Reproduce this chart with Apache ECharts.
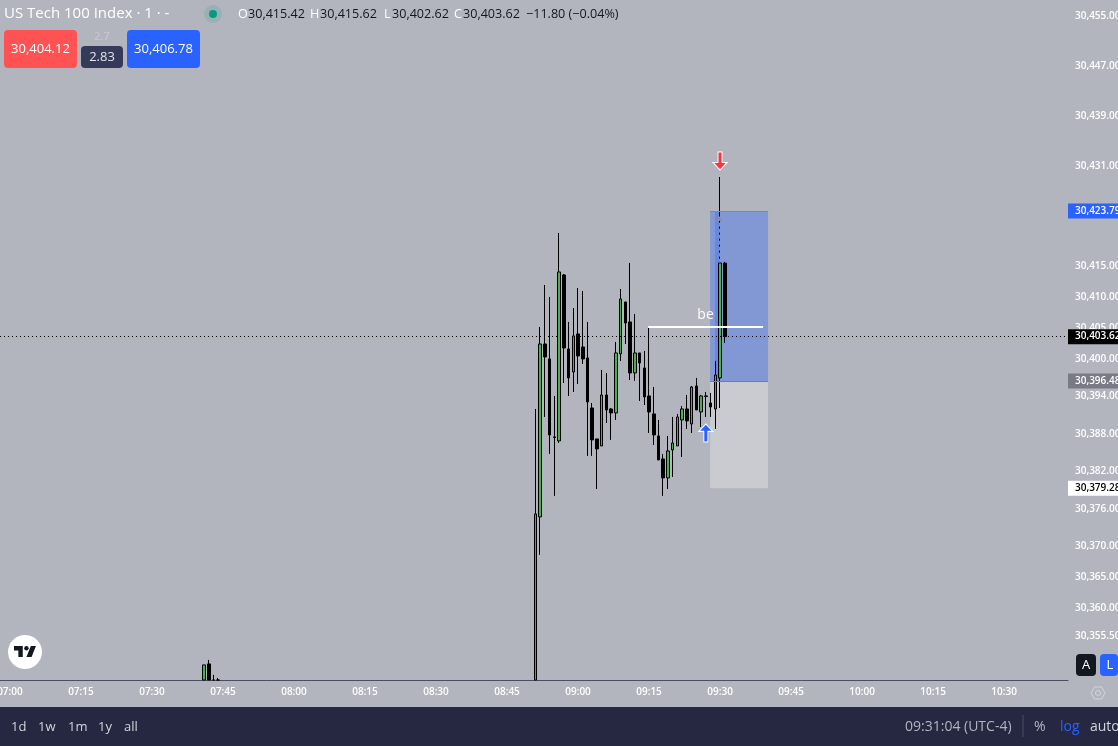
<!DOCTYPE html>
<html>
<head>
<meta charset="utf-8">
<style>
html, body { margin: 0; padding: 0; background: #b2b5be; overflow: hidden; }
#chart { width: 1118px; height: 746px; }
</style>
<script src="https://cdn.jsdelivr.net/npm/echarts@6/dist/echarts.min.js"></script>
</head>
<body>
<div id="chart"></div>
<script>
// minutes since midnight for each 1m candle
var minutes = [461,462,463,464,531,532,533,534,535,536,537,538,539,540,541,542,543,544,545,546,547,548,549,550,551,552,553,554,555,556,557,558,559,560,561,562,563,564,565,566,567,568,569,570,571];
// the first candles run below the visible range, their hidden ends sit on the axis floor
var opens = [30348.5,30351.08,30348.5,30348.5,30348.5,30374.68,30402.44,30400.04,30387.52,30386.88,30413.52,30401.64,30397.95,30404.05,30401.96,30400.20,30392.17,30387.20,30386.07,30394.26,30392.01,30391.37,30400.84,30409.19,30405.98,30397.79,30401.00,30398.59,30394.10,30391.21,30387.68,30383.99,30380.94,30385.43,30386.07,30390.25,30392.01,30389.60,30395.70,30391.53,30394.10,30392.97,30392.01,30396.99,30415.42];
var closes = [30350.92,30348.5,30348.5,30348.5,30375.16,30402.44,30400.36,30387.84,30387.44,30414.00,30401.80,30396.99,30403.73,30400.52,30400.04,30393.13,30387.04,30385.59,30394.26,30391.85,30391.37,30401.00,30409.67,30405.82,30397.79,30401.00,30399.39,30393.94,30391.53,30387.84,30383.83,30380.94,30385.27,30386.55,30390.73,30392.01,30390.09,30395.54,30391.85,30394.10,30394.02,30392.33,30397.47,30415.45,30403.62];
var lows = [30348.5,30348.5,30348.5,30348.5,30348.5,30368.58,30390.73,30384.79,30378.05,30386.55,30396.18,30394.10,30394.74,30396.02,30399.23,30384.47,30384.47,30379.17,30386.07,30389.76,30387.04,30390.25,30399.72,30402.44,30396.67,30396.51,30393.30,30392.65,30388.16,30386.23,30383.83,30378.05,30379.17,30381.10,30386.07,30384.31,30388.80,30388.16,30391.85,30389.12,30390.73,30390.73,30388.80,30392.17,30402.62];
var highs = [30350.92,30351.72,30349.32,30348.83,30392.01,30405.17,30411.91,30409.99,30394.10,30420.26,30413.68,30405.98,30408.22,30411.43,30410.95,30405.98,30392.97,30387.20,30398.27,30397.79,30392.17,30402.77,30411.27,30409.19,30415.45,30407.26,30401.00,30401.32,30405.17,30395.54,30390.25,30384.79,30387.68,30390.73,30391.21,30392.49,30394.26,30395.70,30396.99,30394.26,30394.74,30394.58,30399.72,30429.25,30415.62];

var priceTicks = [30455,30447,30439,30431,30415,30410,30405,30400,30394,30388,30382,30376,30370,30365,30360,30355.5];
var timeTicks = [420,435,450,465,480,495,510,525,540,555,570,585,600,615,630];

var lastPrice = 30403.62;
var targetPrice = 30423.79;
var entryPrice = 30396.48;
var stopPrice = 30379.28;
var bePrice = 30405.17;

function fmtPrice(v) {
  return v.toFixed(2).replace(/\B(?=(\d{3})+(?!\d))/g, ',');
}
function fmtTime(m) {
  var h = Math.floor(m / 60), mm = m % 60;
  return (h < 10 ? '0' : '') + h + ':' + (mm < 10 ? '0' : '') + mm;
}

var candleData = minutes.map(function (m, i) {
  return [m, opens[i], closes[i], lows[i], highs[i]];
});

var font = 'Open Sans';
var bg = '#b2b5be';

function priceLine(value, boxColor, textColor, line) {
  return {
    yAxis: value,
    lineStyle: line || { color: 'rgba(0,0,0,0)' },
    label: {
      show: true,
      position: 'end',
      distance: 0,
      formatter: fmtPrice(value),
      backgroundColor: boxColor,
      color: textColor,
      fontFamily: font,
      fontSize: 10,
      fontWeight: 600,
      width: 44,
      align: 'left',
      padding: [3, 0, 2, 7]
    }
  };
}

var chart = echarts.init(document.getElementById('chart'));
chart.setOption({
  backgroundColor: bg,
  animation: false,
  grid: { left: 0, right: 50, top: 0, bottom: 66, outerBoundsMode: 'none' },
  xAxis: {
    type: 'value',
    min: 417.9,
    max: 643.5,
    splitLine: { show: false },
    axisLine: { onZero: false, lineStyle: { color: '#4a4e63', width: 1 } },
    axisTick: { show: false },
    axisLabel: {
      customValues: timeTicks,
      formatter: fmtTime,
      color: '#ffffff',
      fontFamily: font,
      fontSize: 10,
      fontWeight: 600,
      margin: 7,
      hideOverlap: false
    }
  },
  yAxis: {
    type: 'value',
    position: 'right',
    min: 30348.5,
    max: 30457.66,
    splitLine: { show: false },
    axisLine: { show: false },
    axisTick: { show: false },
    axisLabel: {
      customValues: priceTicks,
      formatter: fmtPrice,
      color: '#ffffff',
      fontFamily: font,
      fontSize: 10,
      fontWeight: 600,
      margin: 7,
      padding: [0, 0, 4, 0],
      hideOverlap: false
    }
  },
  series: [{
    type: 'candlestick',
    data: candleData,
    barWidth: 3,
    itemStyle: {
      color: '#4caf50',
      color0: '#000000',
      borderColor: '#000000',
      borderColor0: '#000000',
      borderWidth: 1
    },
    markArea: {
      silent: true,
      data: [
        [{ coord: [567.9, targetPrice], itemStyle: { color: 'rgba(41,98,255,0.35)', borderWidth: 0 } }, { coord: [580.14, entryPrice] }],
        [{ coord: [567.9, entryPrice], itemStyle: { color: 'rgba(255,255,255,0.3)', borderWidth: 0 } }, { coord: [580.14, stopPrice] }],
        [{ coord: [568.95, targetPrice], itemStyle: { color: 'rgba(41,98,255,0.3)', borderWidth: 0 } }, { coord: [570, entryPrice] }]
      ]
    },
    markLine: {
      silent: true,
      symbol: 'none',
      animation: false,
      data: [
        priceLine(targetPrice, '#2962ff', '#ffffff'),
        priceLine(entryPrice, '#787b86', '#ffffff'),
        priceLine(stopPrice, '#ffffff', '#000000'),
        priceLine(lastPrice, '#000000', '#ffffff', { color: '#000000', type: [1, 3], width: 1, opacity: 1 }),
        [{
          coord: [554.8, bePrice],
          lineStyle: { color: '#ffffff', width: 2, type: 'solid', opacity: 1 },
          label: { show: true, position: 'insideMiddleTop', formatter: 'be', color: '#ffffff', fontFamily: font, fontSize: 14, distance: 5 }
        }, { coord: [579.09, bePrice] }],
        [{
          coord: [567.9, entryPrice],
          lineStyle: { color: '#787b86', width: 1, type: 'solid', opacity: 1 },
          label: { show: false }
        }, { coord: [580.14, entryPrice] }],
        [{
          coord: [567.9, targetPrice],
          lineStyle: { color: '#6f86d8', width: 1, type: 'solid', opacity: 1 },
          label: { show: false }
        }, { coord: [580.14, targetPrice] }],
        [{
          coord: [569.75, 30415.5],
          lineStyle: { color: '#8a8d99', width: 1, type: 'dashed', opacity: 1 },
          label: { show: false }
        }, { coord: [569.75, 30423], symbol: 'arrow', symbolSize: 6 }]
      ]
    },
    markPoint: {
      silent: true,
      animation: false,
      label: { show: false },
      data: [{
        coord: [570, 30431.82],
        symbol: 'path://M5 0 L9 0 L9 10 L14 10 L7 17 L0 10 L5 10 Z',
        symbolSize: [14, 18],
        itemStyle: { color: '#f23645', borderColor: '#ffffff', borderWidth: 1 }
      }, {
        coord: [567, 30388.16],
        symbol: 'path://M7 0 L14 7 L9 7 L9 17 L5 17 L5 7 L0 7 Z',
        symbolSize: [14, 18],
        itemStyle: { color: '#2962ff', borderColor: '#ffffff', borderWidth: 1 }
      }]
    }
  }],
  graphic: [
    // bottom bar
    { type: 'rect', z: 50, shape: { x: 0, y: 707, width: 1118, height: 39 }, style: { fill: '#252840' } },
    { type: 'line', z: 51, shape: { x1: 1023, y1: 715, x2: 1023, y2: 737 }, style: { stroke: '#4a4e63', lineWidth: 1 } },
    { type: 'text', z: 51, x: 11, y: 721, style: { text: '1d', fill: '#d1d4dc', font: '13px "Open Sans"' } },
    { type: 'text', z: 51, x: 38, y: 721, style: { text: '1w', fill: '#d1d4dc', font: '13px "Open Sans"' } },
    { type: 'text', z: 51, x: 68, y: 721, style: { text: '1m', fill: '#d1d4dc', font: '13px "Open Sans"' } },
    { type: 'text', z: 51, x: 98, y: 721, style: { text: '1y', fill: '#d1d4dc', font: '13px "Open Sans"' } },
    { type: 'text', z: 51, x: 124, y: 721, style: { text: 'all', fill: '#d1d4dc', font: '13px "Open Sans"' } },
    { type: 'text', z: 51, x: 905, y: 720, style: { text: '09:31:04 (UTC-4)', fill: '#b2b5be', font: '14px "Open Sans"' } },
    { type: 'text', z: 51, x: 1034, y: 720, style: { text: '%', fill: '#b2b5be', font: '14px "Open Sans"' } },
    { type: 'text', z: 51, x: 1060, y: 720, style: { text: 'log', fill: '#2962ff', font: '14px "Open Sans"' } },
    { type: 'text', z: 51, x: 1090, y: 720, style: { text: 'auto', fill: '#d1d4dc', font: '14px "Open Sans"' } },
    // header
    { type: 'text', x: 4, y: 6, style: { text: 'US Tech 100 Index · 1 · -', fill: '#ffffff', font: '15px "Open Sans"' } },
    { type: 'circle', shape: { cx: 213, cy: 14, r: 9 }, style: { fill: 'rgba(8,153,129,0.15)' } },
    { type: 'circle', shape: { cx: 213, cy: 14, r: 4 }, style: { fill: '#089981' } },
    { type: 'text', x: 238, y: 8, style: { text: 'O', fill: '#ffffff', font: '12.6px "Open Sans"' } },
    { type: 'text', x: 248, y: 8, style: { text: '30,415.42', fill: '#131722', font: '12.6px "Open Sans"' } },
    { type: 'text', x: 310, y: 8, style: { text: 'H', fill: '#ffffff', font: '12.6px "Open Sans"' } },
    { type: 'text', x: 320, y: 8, style: { text: '30,415.62', fill: '#131722', font: '12.6px "Open Sans"' } },
    { type: 'text', x: 384, y: 8, style: { text: 'L', fill: '#ffffff', font: '12.6px "Open Sans"' } },
    { type: 'text', x: 392, y: 8, style: { text: '30,402.62', fill: '#131722', font: '12.6px "Open Sans"' } },
    { type: 'text', x: 454, y: 8, style: { text: 'C', fill: '#ffffff', font: '12.6px "Open Sans"' } },
    { type: 'text', x: 463, y: 8, style: { text: '30,403.62', fill: '#131722', font: '12.6px "Open Sans"' } },
    { type: 'text', x: 526, y: 8, style: { text: '−11.80 (−0.04%)', fill: '#131722', font: '12.6px "Open Sans"' } },
    // bid / ask boxes
    { type: 'rect', shape: { x: 4, y: 30, width: 73, height: 38, r: 4 }, style: { fill: '#ff5252' } },
    { type: 'text', x: 40.5, y: 49, style: { text: '30,404.12', fill: '#ffffff', font: '13px "Open Sans"', align: 'center', verticalAlign: 'middle' } },
    { type: 'text', x: 102, y: 37, style: { text: '2.7', fill: '#c7cad3', font: '11px "Open Sans"', align: 'center', verticalAlign: 'middle' } },
    { type: 'rect', shape: { x: 81, y: 46, width: 42, height: 22, r: 4 }, style: { fill: '#363a59' } },
    { type: 'text', x: 102, y: 57, style: { text: '2.83', fill: '#e0e3eb', font: '13px "Open Sans"', align: 'center', verticalAlign: 'middle' } },
    { type: 'rect', shape: { x: 127, y: 30, width: 73, height: 38, r: 4 }, style: { fill: '#2962ff' } },
    { type: 'text', x: 163.5, y: 49, style: { text: '30,406.78', fill: '#ffffff', font: '13px "Open Sans"', align: 'center', verticalAlign: 'middle' } },
    // logo
    { type: 'circle', shape: { cx: 25, cy: 652, r: 17 }, style: { fill: '#ffffff' } },
    {
      type: 'group', x: 12.5, y: 641.6, scaleX: 0.733, scaleY: 0.733,
      children: [
        { type: 'polygon', shape: { points: [[14, 6], [2, 6], [2, 12], [8, 12], [8, 21], [14, 21]] }, style: { fill: '#131722' } },
        { type: 'polygon', shape: { points: [[26, 21], [19, 21], [25, 6], [32, 6]] }, style: { fill: '#131722' } },
        { type: 'circle', shape: { cx: 19, cy: 9, r: 3 }, style: { fill: '#131722' } }
      ]
    },
    // A / L buttons
    { type: 'rect', shape: { x: 1076, y: 654, width: 20, height: 22, r: 4 }, style: { fill: '#131722' } },
    { type: 'text', x: 1086, y: 665, style: { text: 'A', fill: '#ffffff', font: '13px "Open Sans"', align: 'center', verticalAlign: 'middle' } },
    { type: 'rect', shape: { x: 1100, y: 654, width: 18, height: 22, r: 4 }, style: { fill: '#2962ff' } },
    { type: 'text', x: 1110, y: 665, style: { text: 'L', fill: '#ffffff', font: '13px "Open Sans"', align: 'center', verticalAlign: 'middle' } },
    // settings glyph
    {
      type: 'polygon',
      shape: { points: [[1091, 693], [1094.5, 687], [1101.5, 687], [1105, 693], [1101.5, 699], [1094.5, 699]] },
      style: { fill: 'none', stroke: '#d1d4dc', lineWidth: 1 }
    },
    { type: 'circle', shape: { cx: 1098, cy: 693, r: 2.5 }, style: { fill: 'none', stroke: '#d1d4dc', lineWidth: 1 } }
  ]
});
</script>
</body>
</html>
